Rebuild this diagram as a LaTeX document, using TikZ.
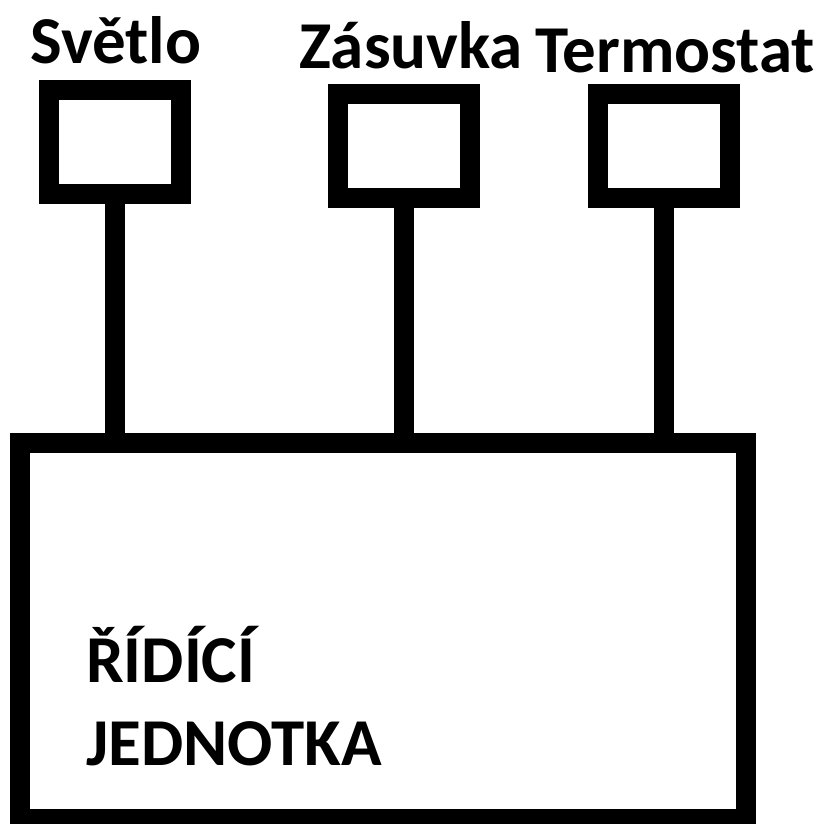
\documentclass[tikz,border=0pt]{standalone}
\usepackage{fontspec}
\setmainfont{Carlito}
\usetikzlibrary{positioning}

\begin{document}
\begin{tikzpicture}[x=1pt,y=-1pt, font=\bfseries\fontsize{67}{83}\selectfont]
  \tikzset{device/.style={draw,line width=20pt,minimum width=132pt,minimum height=104pt,inner sep=0pt},
    label/.style={anchor=base west,inner sep=0pt},
    wire/.style={line width=20pt}}
  \useasboundingbox (0,0) rectangle (832,823);
  % control unit
  \node[draw,line width=20pt,minimum width=726pt,minimum height=376pt,inner sep=0pt] (jednotka) at (383,631) {};
  \node[anchor=base west,inner sep=0pt,align=left] (nazev) at (86,765) {ŘÍDÍCÍ\\JEDNOTKA};
  % devices
  \node[device] (svetlo) at (115,142) {};
  \node[device] (zasuvka) at (404,146) {};
  \node[device] (termostat) at (664,146) {};
  \node[label] (lsvetlo) at (30,63) {Světlo};
  \node[label] (lzasuvka) at (299,68) {Zásuvka};
  \node[label] (ltermostat) at (535,72) {Termostat};
  \draw[wire] (svetlo.south) -- (svetlo.south |- jednotka.north);
  \draw[wire] (zasuvka.south) -- (zasuvka.south |- jednotka.north);
  \draw[wire] (termostat.south) -- (termostat.south |- jednotka.north);
\end{tikzpicture}
\end{document}
